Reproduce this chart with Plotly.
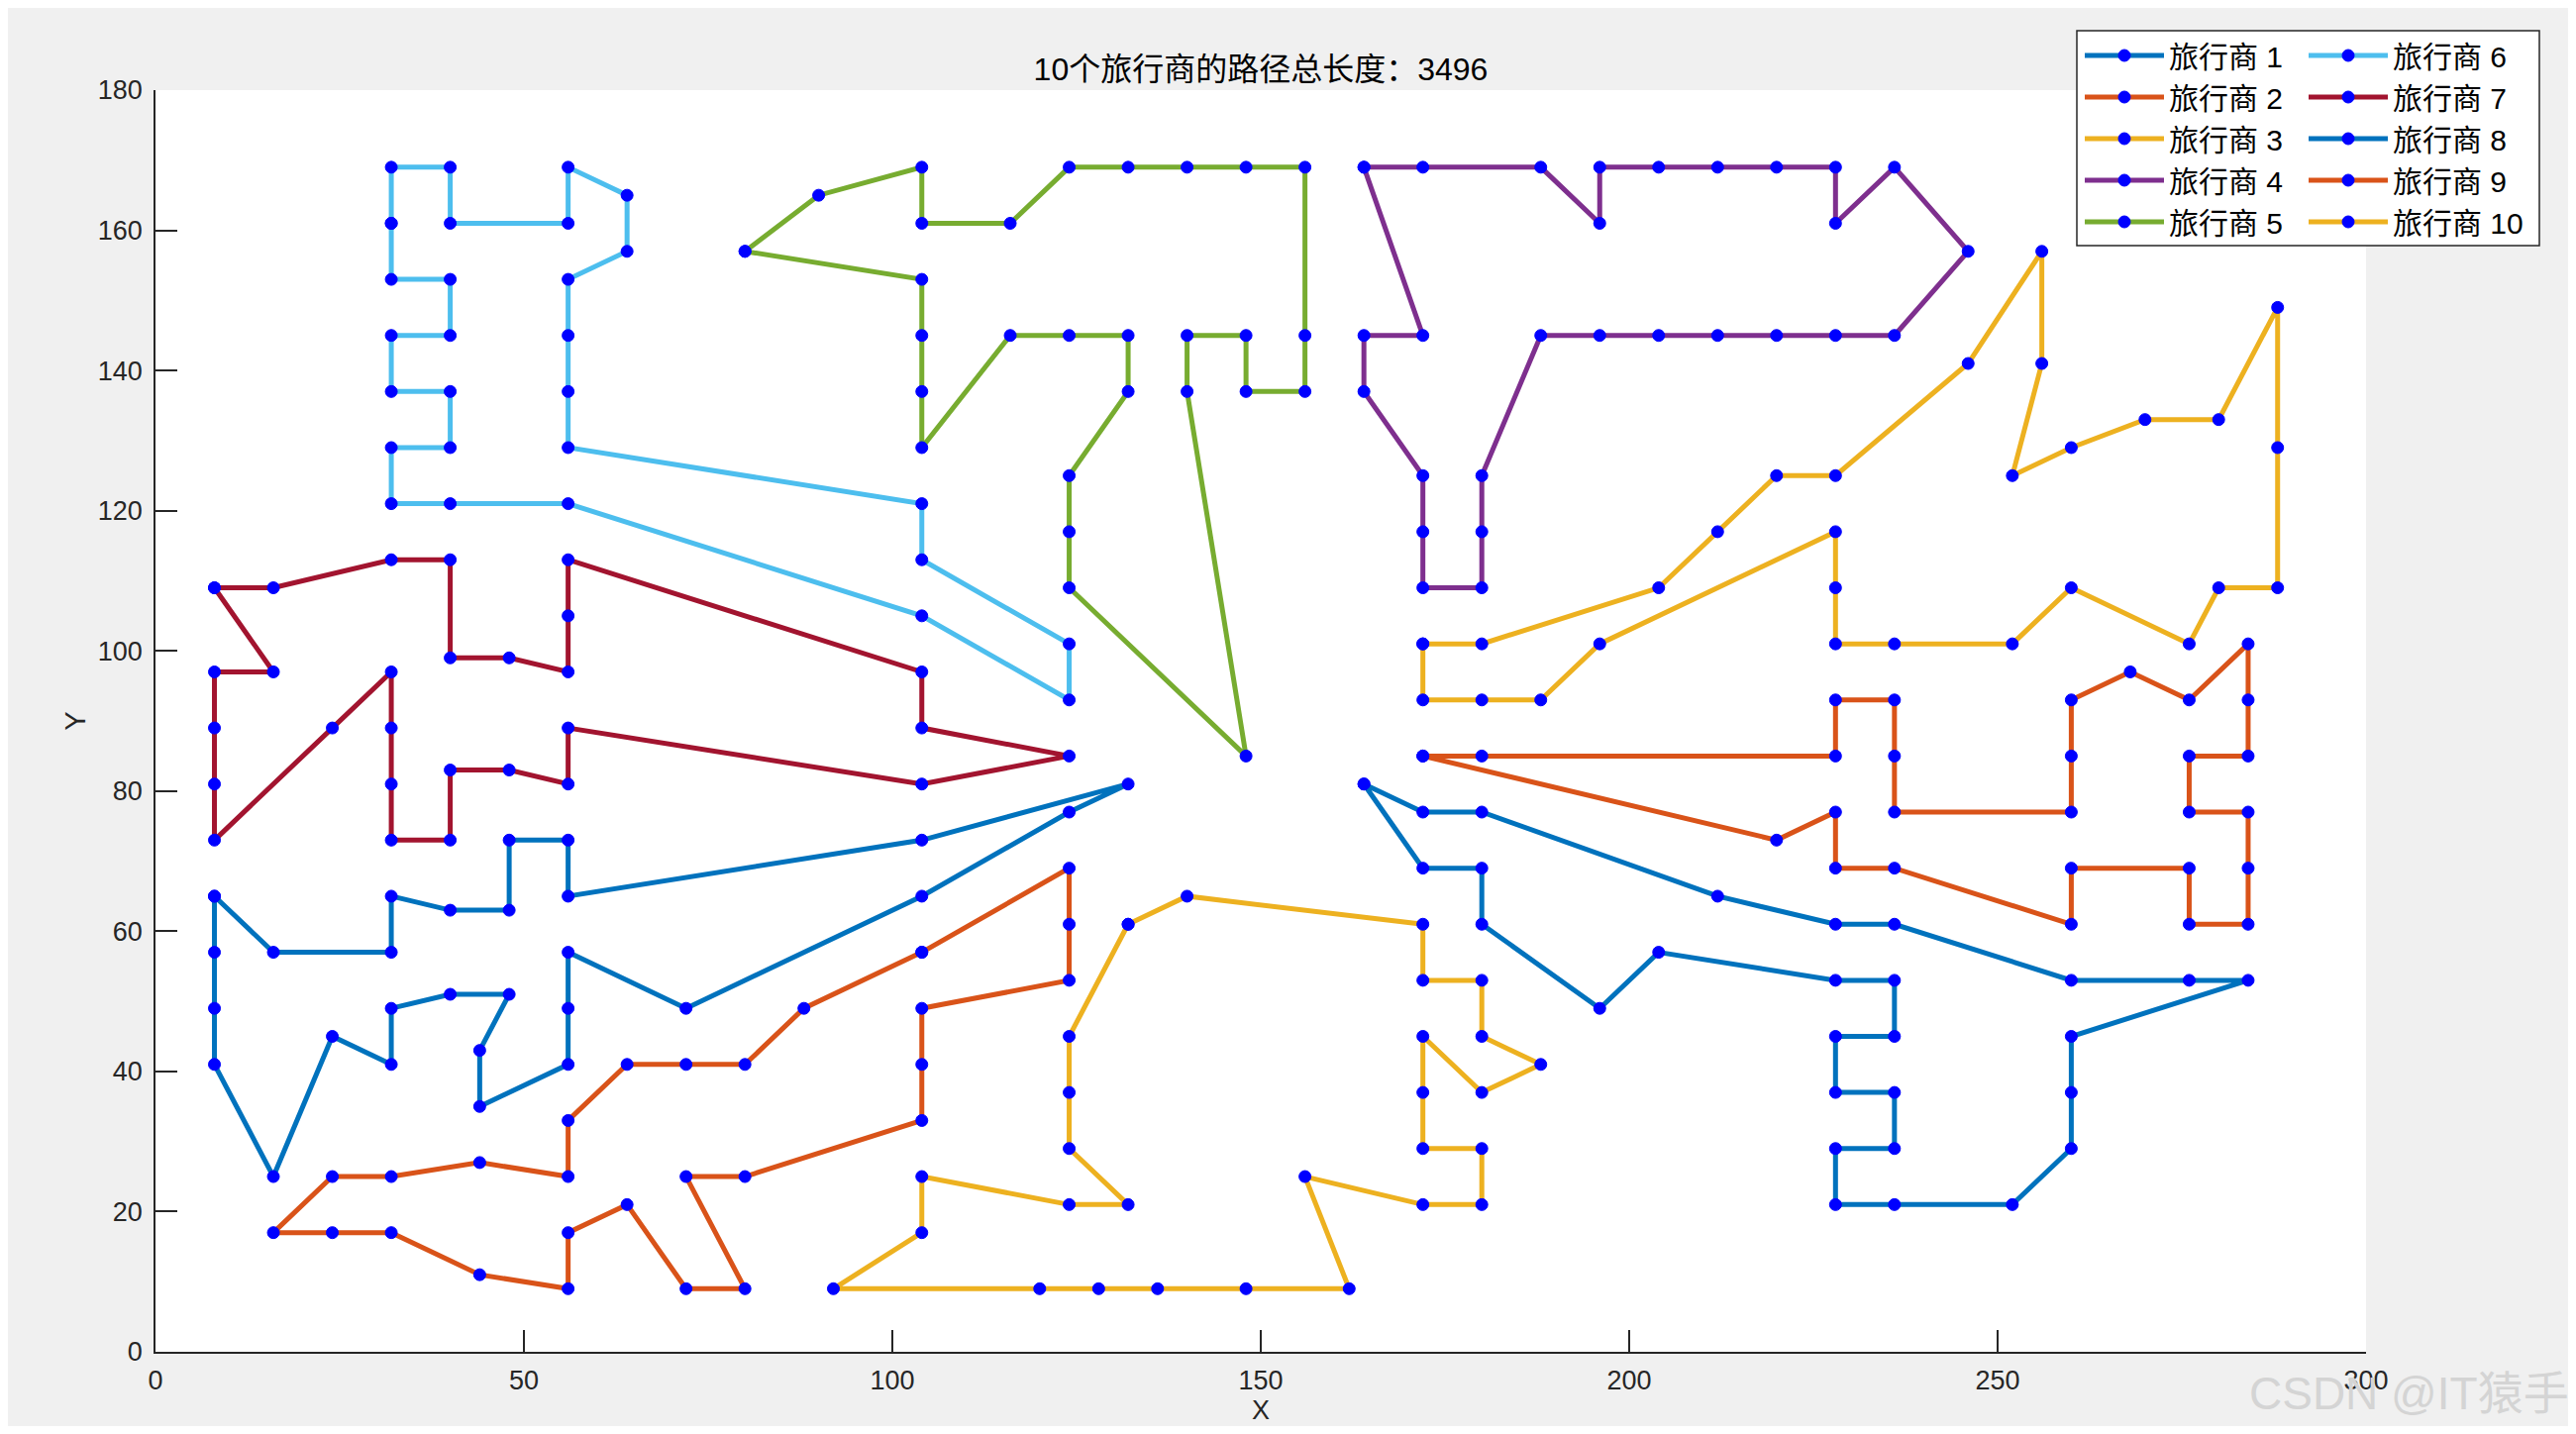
import plotly.graph_objects as go

# page is 2601x1448; the html body adds an 8px margin, so the figure is offset by OFF
OFF = 8
W, H = 2601 - 2 * OFF, 1448 - 2 * OFF
PW, PH = 2232, 1274
L, T = 157 - OFF, 91 - OFF
R, B = W - L - PW, H - T - PH

# Routes (closed tours): (x, y) city coordinates
route1 = [(8,65),(16,57),(32,57),(32,65),(40,63),(48,63),(48,73),(56,73),(56,65),(104,73),
          (132,81),(124,77),(104,65),(72,49),(56,57),(56,49),(56,41),(44,35),(44,43),(48,51),
          (40,51),(32,49),(32,41),(24,45),(16,25),(8,41),(8,49),(8,57)]
route2 = [(104,57),(88,49),(80,41),(72,41),(64,41),(56,33),(56,25),(44,27),(32,25),(24,25),
          (16,17),(24,17),(32,17),(44,11),(56,9),(56,17),(64,21),(72,9),(80,9),(72,25),
          (80,25),(104,33),(104,41),(104,49),(124,53),(124,61),(124,69)]
route3 = [(132,61),(124,45),(124,37),(124,29),(132,21),(124,21),(104,25),(104,17),(92,9),(120,9),
          (128,9),(136,9),(148,9),(162,9),(156,25),(172,21),(180,21),(180,29),(172,29),(172,37),
          (172,45),(180,37),(188,41),(180,45),(180,53),(172,53),(172,61),(140,65)]
route4 = [(164,169),(172,169),(188,169),(196,161),(196,169),(204,169),(212,169),(220,169),(228,169),(228,161),
          (236,169),(246,157),(236,145),(228,145),(220,145),(212,145),(204,145),(196,145),(188,145),(180,125),
          (180,117),(180,109),(172,109),(172,117),(172,125),(164,137),(164,145),(172,145)]
route5 = [(80,157),(90,165),(104,169),(104,161),(116,161),(124,169),(132,169),(140,169),(148,169),(156,169),
          (156,145),(156,137),(148,137),(148,145),(140,145),(140,137),(148,85),(124,109),(124,117),(124,125),
          (132,137),(132,145),(124,145),(116,145),(104,129),(104,137),(104,145),(104,153)]
route6 = [(32,161),(32,169),(40,169),(40,161),(56,161),(56,169),(64,165),(64,157),(56,153),(56,145),
          (56,137),(56,129),(104,121),(104,113),(124,101),(124,93),(104,105),(56,121),(40,121),(32,121),
          (32,129),(40,129),(40,137),(32,137),(32,145),(40,145),(40,153),(32,153)]
route7 = [(8,109),(16,109),(32,113),(40,113),(40,99),(48,99),(56,97),(56,105),(56,113),(104,97),
          (104,89),(124,85),(104,81),(56,89),(56,81),(48,83),(40,83),(40,73),(32,73),(32,81),
          (32,89),(32,97),(24,89),(8,73),(8,81),(8,89),(8,97),(16,97)]
route8 = [(164,81),(172,77),(180,77),(212,65),(228,61),(236,61),(260,53),(276,53),(284,53),(260,45),
          (260,37),(260,29),(252,21),(236,21),(228,21),(228,29),(236,29),(236,37),(228,37),(228,45),
          (236,45),(236,53),(228,53),(204,57),(196,49),(180,61),(180,69),(172,69)]
route9 = [(172,85),(180,85),(228,85),(228,93),(236,93),(236,85),(236,77),(260,77),(260,85),(260,93),
          (268,97),(276,93),(284,101),(284,93),(284,85),(276,85),(276,77),(284,77),(284,69),(284,61),
          (276,61),(276,69),(260,69),(260,61),(236,69),(228,69),(228,77),(220,73)]
route10 = [(172,101),(180,101),(204,109),(212,117),(220,125),(228,125),(246,141),(256,157),(256,141),(252,125),
           (260,129),(270,133),(280,133),(288,149),(288,129),(288,109),(280,109),(276,101),(260,109),(252,101),
           (236,101),(228,101),(228,109),(228,117),(196,101),(188,93),(180,93),(172,93)]

routes = [route1, route2, route3, route4, route5, route6, route7, route8, route9, route10]
names = ["旅行商 %d" % i for i in range(1, 11)]
colors = ["#0072BD", "#D95319", "#EDB120", "#7E2F8E", "#77AC30",
          "#4DBEEE", "#A2142F", "#0072BD", "#D95319", "#EDB120"]
title_text = "10个旅行商的路径总长度：3496"
x_ticks = [0, 50, 100, 150, 200, 250, 300]
y_ticks = [0, 20, 40, 60, 80, 100, 120, 140, 160, 180]

FONT = "Arial, 'Liberation Sans', 'Noto Sans CJK SC', sans-serif"


def px2x(p):
    # page pixel -> paper x
    return (p - OFF - L) / PW


def py2y(p):
    # page pixel -> paper y
    return (H - B - (p - OFF)) / PH


fig = go.Figure()
for i, (rt, nm, col) in enumerate(zip(routes, names, colors)):
    pts = rt + [rt[0]]
    fig.add_trace(go.Scatter(
        x=[p[0] for p in pts], y=[p[1] for p in pts],
        mode="lines+markers", name=nm,
        line=dict(color=col, width=5),
        marker=dict(color="#0000FF", size=12, line=dict(color="#0000FF", width=1)),
        legend="legend" if i < 5 else "legend2",
    ))

legend_common = dict(
    orientation="v", bgcolor="rgba(0,0,0,0)", borderwidth=0,
    font=dict(family=FONT, size=30, color="#000000"),
    itemwidth=80, tracegroupgap=0, xanchor="left", yanchor="top",
)

fig.update_layout(
    width=W, height=H,
    margin=dict(l=L, r=R, t=T, b=B, pad=0, autoexpand=False),
    paper_bgcolor="#F0F0F0", plot_bgcolor="#FFFFFF",
    font=dict(family=FONT, size=26, color="#262626"),
    title=dict(text=title_text, x=0.5, xref="paper", y=1 - (70 - OFF) / H, yref="container",
               xanchor="center", yanchor="middle",
               font=dict(family=FONT, size=32, color="#000000")),
    xaxis=dict(range=[0, 300], tickvals=x_ticks, showgrid=False, zeroline=False,
               showline=True, linecolor="#262626", linewidth=1.5, mirror=False,
               ticks="inside", ticklen=22, tickwidth=1.5, tickcolor="#262626",
               ticklabelstandoff=4, automargin=False,
               tickfont=dict(size=27, color="#262626")),
    yaxis=dict(range=[0, 180], tickvals=y_ticks, showgrid=False, zeroline=False,
               showline=True, linecolor="#262626", linewidth=1.5, mirror=False,
               ticks="inside", ticklen=22, tickwidth=1.5, tickcolor="#262626",
               ticklabelstandoff=6, automargin=False,
               tickfont=dict(size=27, color="#262626"),
               title=dict(text="Y", font=dict(size=29, color="#262626"), standoff=4)),
    legend=dict(x=px2x(2100), y=py2y(30), **legend_common),
    legend2=dict(x=px2x(2326), y=py2y(30), **legend_common),
    showlegend=True,
    shapes=[dict(type="rect", xref="paper", yref="paper",
                 x0=px2x(2097), x1=px2x(2564), y0=py2y(248), y1=py2y(31),
                 fillcolor="#FFFFFF", line=dict(color="#262626", width=1.5), layer="below")],
    annotations=[
        dict(text="X", xref="paper", yref="paper", x=0.5, y=py2y(1424),
             xanchor="center", yanchor="middle", showarrow=False,
             font=dict(family=FONT, size=27, color="#262626")),
        dict(text="CSDN @IT猿手", xref="paper", yref="paper",
             x=px2x(2596), y=py2y(1407), xanchor="right", yanchor="middle",
             showarrow=False, font=dict(family=FONT, size=46, color="#D4D4D4")),
    ],
)

fig.write_html("out.html")
